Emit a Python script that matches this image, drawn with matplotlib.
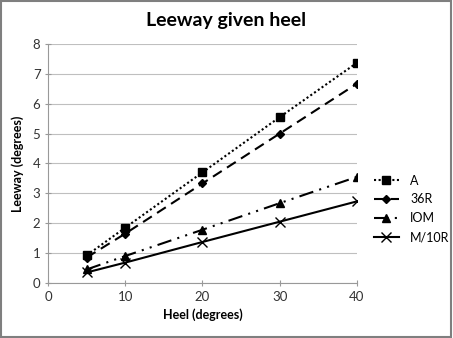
import matplotlib.pyplot as plt
from matplotlib.patches import Rectangle

heel = [5, 10, 20, 30, 40]
leeway_a = [0.92, 1.85, 3.70, 5.55, 7.37]
leeway_36r = [0.85, 1.65, 3.33, 5.00, 6.67]
leeway_iom = [0.45, 0.90, 1.78, 2.67, 3.55]
leeway_m10r = [0.35, 0.68, 1.37, 2.05, 2.73]

plt.rcParams['font.family'] = ['Lato', 'DejaVu Sans']

fig = plt.figure(figsize=(4.53, 3.38), dpi=100)
ax = fig.add_axes([0.106, 0.163, 0.682, 0.707])

ax.plot(heel, leeway_a, color='black', linestyle=(0, (1, 1.2)), linewidth=1.5,
        marker='s', markersize=6, label='A')
ax.plot(heel, leeway_36r, color='black', linestyle=(0, (5, 3)), linewidth=1.5,
        marker='D', markersize=4.5, label='36R')
ax.plot(heel, leeway_iom, color='black', linestyle=(0, (7, 3, 1, 3, 1, 3)), linewidth=1.5,
        marker='^', markersize=6, label='IOM')
ax.plot(heel, leeway_m10r, color='black', linestyle='-', linewidth=1.5,
        marker='x', markersize=7, markeredgewidth=1, label='M/10R')

ax.set_xlim(0, 40)
ax.set_ylim(0, 8)
ax.set_xticks([0, 10, 20, 30, 40])
ax.set_yticks(range(0, 9))
ax.grid(axis='y', color='#bfbfbf', linewidth=0.8)
ax.set_axisbelow(True)
for side in ['top', 'right']:
    ax.spines[side].set_visible(False)
for side in ['left', 'bottom']:
    ax.spines[side].set_color('#999999')
ax.tick_params(axis='both', colors='#999999', labelcolor='#333333', labelsize=9.5,
               length=4, direction='inout')
ax.set_xlabel('Heel (degrees)', fontsize=9, fontweight='bold', labelpad=4)
ax.set_ylabel('Leeway (degrees)', fontsize=9, fontweight='bold', labelpad=6)

fig.suptitle('Leeway given heel', fontsize=14, fontweight='bold', y=0.965)

fig.legend(loc='center left', bbox_to_anchor=(0.825, 0.382), frameon=False,
           fontsize=9, handlelength=2.0, handletextpad=0.9, labelspacing=0.55,
           borderaxespad=0, borderpad=0)

fig.patches.append(Rectangle((0.002, 0.003), 0.994, 0.994, transform=fig.transFigure,
                             fill=False, edgecolor='#7f7f7f', linewidth=1.5))

fig.savefig('out.png', dpi=100)
